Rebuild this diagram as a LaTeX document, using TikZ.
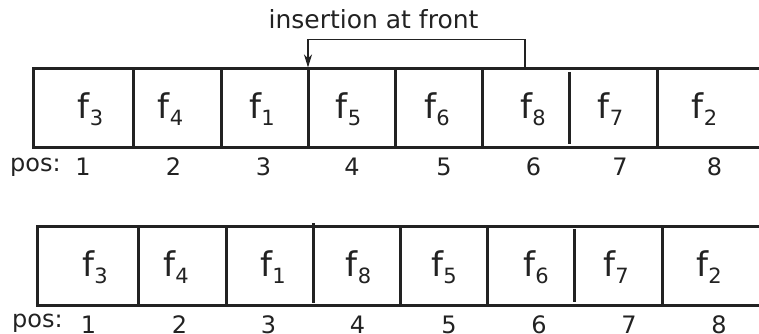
\documentclass[tikz,border=0pt]{standalone}
\usepackage{fontspec}
\setmainfont{DejaVu Sans}
\usetikzlibrary{arrows.meta}

\definecolor{ink}{HTML}{222222}

% f label with a lowered index
\newcommand{\fsub}[1]{f\raisebox{-7pt}{\fontsize{21}{21}\selectfont #1}}

\begin{document}
\begin{tikzpicture}[x=1pt,y=-1pt,
  frame/.style={draw=ink,line width=3pt},
  cell/.style={anchor=base,inner sep=0pt,text=ink,font=\fontsize{34}{40}\selectfont},
  idx/.style={anchor=base,inner sep=0pt,text=ink,font=\fontsize{24}{28}\selectfont},
  poslbl/.style={anchor=base west,inner sep=0pt,text=ink,font=\fontsize{24}{28}\selectfont},
  title/.style={anchor=base,inner sep=0pt,text=ink,font=\fontsize{25}{30}\selectfont},
  link/.style={draw=ink,line width=1.2pt}]
\useasboundingbox (0,0) rectangle (759,334);

% upper array
\draw[frame] (759,69) -- (33,69) -- (33,147) -- (759,147);
\foreach \x in {133,221,308,395,482,657}
  \draw[frame] (\x,69) -- (\x,147);
\draw[frame] (569,72) -- (569,144);

\foreach \lab/\x in {3/90.5,4/170.5,1/262,5/348.5,6/437,8/533,7/610.5,2/704.5}
  \node[cell] (top\lab) at (\x,118.3) {\fsub{\lab}};

\node[poslbl] (toppos) at (10,171) {pos:};
\foreach \n/\x in {1/83,2/173.5,3/263.5,4/352,5/444,6/533.5,7/620,8/714.5}
  \node[idx] (topi\n) at (\x,175.7) {\n};

% lower array
\draw[frame] (759,226.5) -- (37,226.5) -- (37,305) -- (759,305);
\foreach \x in {138,226,400,487,662}
  \draw[frame] (\x,226.5) -- (\x,305);
\draw[frame] (313,223) -- (313,303);
\draw[frame] (574,229) -- (574,302);

\foreach \lab/\x in {3/95,4/176,1/273,8/358.5,5/444,6/536,7/616,2/709}
  \node[cell] (bot\lab) at (\x,276.7) {\fsub{\lab}};

\node[poslbl] (botpos) at (12,327) {pos:};
\foreach \n/\x in {1/88.5,2/179.5,3/268.5,4/357.5,5/449,6/539,7/629,8/719}
  \node[idx] (boti\n) at (\x,333.5) {\n};

% insertion arrow
\coordinate (from) at (525,67.5);
\coordinate (to) at (308,67.5);
\node[title] (caption) at (373.5,29) {insertion at front};
\draw[link,-{Stealth[length=13pt,width=8pt,inset=4pt]}] (from) -- (525,39.5) -| (to);
\end{tikzpicture}
\end{document}
